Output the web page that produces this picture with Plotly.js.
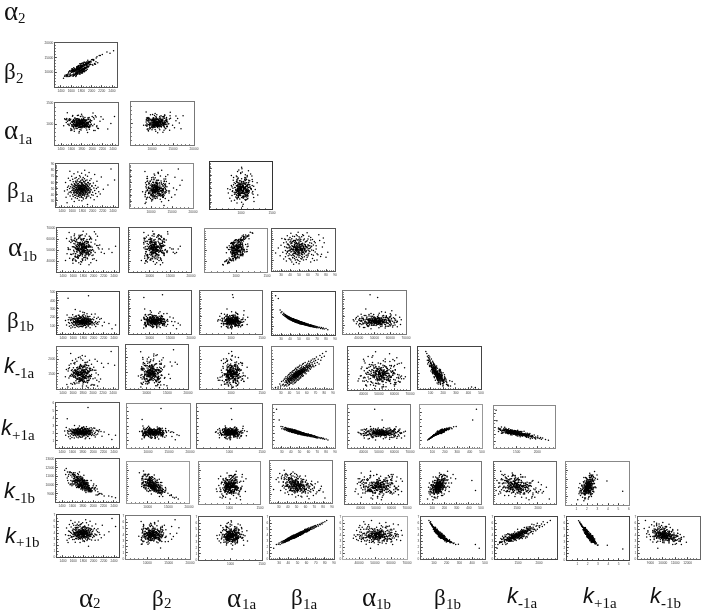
<!DOCTYPE html>
<html><head><meta charset="utf-8">
<script src="https://cdn.plot.ly/plotly-3.0.1.min.js"></script>
<style>html,body{margin:0;padding:0;background:#fff}#plot{width:702px;height:613px;filter:blur(0.35px)}</style>
</head><body><div id="plot"></div>
<script>
// Estimated posterior samples, read by eye from the cloud shapes of the reference.
const alpha2=[1900,1500,1640,1790,1735,2030,1820,1590,1870,1700,1960,1660,1810,1750,1480,1880,1715,2090,1780,1620,1845,1560,1925,1690,1800,1740,2010,1650,1765,1890,1610,1830,1725,1980,1520,1785,1860,1680,2150,1755,1905,1710,1635,1820,2060,1770,1580,1855,1695,1945,1745,1875,1540,1800,1665,2000,1730,1910,1625,1790,2120,1685,1835,1570,1775,1950,1720,1860,1450,1805,1640,1895,1760,2040,1700,1815,1595,1925,1780,1670,1840,1505,1750,1970,1690,1870,1615,1795,2210,1735,1920,1655,1825,1710,2075,1770,1550,1885,1745,1630,1805,2025,1680,1850,1600,1765,1940,1725,1880,1510,1695,1835,2105,1755,1645,1915,1785,1570,1860,1720,1990,1625,1810,1740,1895,1530,1775,2055,1670,1845,1760,1935,1600,1820,1705,2300,1650,1875,1790,1585,1865,1715,1955,1640,1800,2015,1690,1750,1470,1905,1780,1620,1850,1735,2085,1665,1825,1945,1560,1770,1700,1890,2430,1610,1795,1970,1730,1840,1655,1525,1815,1680,2170,1760,1900,1590,1745,1860,2040,1635,1785,1930,1710,1555,1845,2360,
1785,1890,1725,1830,1660,1800,1905,1755,1845,1700,1815,1740,1930,1680,1795,1870,1640,1760,1825,1715,1860,1770,1690,1810,1945,1735,1805,1650,1880,1780,1750,1835,1910,1705,1790,1620,1855,1775,1965,1725,1820,1670,1895,1760,1800,1745,1840,1690,1875,1785,1710,1925,1780,1635,1850,1770,1815,1730,1905,1795,1865,1685,1755,1830,1800,1950,1720,1610,1845,1775,1740,1885,1810,1665,1790,1920,1765,1825,1700,1855,1795,1645,1870,1750,1980,1810,1725,1900,1680,1835,1770,1860,1695,1815,1745,1890,1655,1800,1780,1930,1720,1840,1785,1675,1915,1755,1825,1695,1865,1805];
const beta2=[13100,8600,8800,12500,10150,14200,10400,10200,12200,8900,13400,11100,9900,10900,9000,11500,9650,14900,12800,9200,10750,10300,12950,8600,12300,10900,12700,11600,10650,13100,10000,10300,12050,12700,8600,12250,10200,10600,15700,10050,12150,11700,8650,12200,13000,12900,9500,10450,10350,13350,11950,11550,9500,9800,10250,14300,9500,12600,11050,10500,13300,10650,12750,8700,9450,13600,11900,11000,8000,13050,11000,10750,11000,14400,9700,12450,8850,14150,10000,10300,10300,9150,12300,12800,9200,12600,11250,10750,16100,10750,13500,9150,11850,11800,12750,10900,10000,10550,11350,10500,12050,12450,9700,13400,10500,9450,12900,11450,11300,8900,9350,12050,15350,12150,9450,11050,11850,10500,11700,9400,13500,11150,10200,11200,11550,8800,12150,12850,11300,10250,10400,13450,10700,9800,10450,16900,8900,13250,11500,8950,13450,9450,12550,10100,13000,14350,9600,9500,8700,12450,11300,10600,10400,11450,13650,9050,13150,13150,9200,9800,11300,11600,17400,10700,10150,13500,10700,13100,9050,9150,10150,11000,15700,10500,13500,9100,12250,10900,14000,10750,11750,11700,11700,8550,12550,16500,
10500,12900,11300,11100,10700,11900,12600,10100,12700,10000,12300,11200,12000,9400,11900,11600,10400,11600,10800,11100,12700,10400,10900,10800,13500,11300,11900,10500,11400,11700,10300,12200,11800,11100,11500,10300,12500,10500,13700,10000,11000,10700,12900,11500,10700,11400,11100,10900,12700,11600,11000,12000,11800,10300,11300,11600,10900,10100,13000,11400,12600,9700,11500,11000,12000,12200,11100,10000,11300,10600,11300,11600,12000,10500,10700,13200,11500,11000,10900,12400,10800,10300,11500,11300,13800,11900,10100,12900,10700,11200,11500,11400,10800,11000,11200,12700,10400,10800,11600,12100,11000,11300,11600,10600,12000,11300,11100,9800,12400,11800];
const alpha1a=[1025,1035,935,1010,1210,845,1075,895,1085,1065,1105,980,940,820,1110,935,1205,960,1010,1035,1025,1085,915,955,1040,1110,960,1075,1050,985,855,1110,1085,995,1270,930,960,970,1065,1100,975,895,1080,920,1195,985,1015,1040,950,1060,1120,955,1095,905,975,1180,995,795,1050,1105,890,1050,1130,1090,915,925,1125,955,960,1190,1105,860,1025,1120,1005,1070,865,1105,935,1135,935,1100,1100,950,975,1080,945,1230,1115,915,1040,825,1165,970,1165,985,995,1035,785,1075,1050,1155,965,980,1045,870,1155,950,905,1130,1120,1040,900,990,985,1145,855,1100,1075,950,1075,1205,965,1020,1030,995,1180,845,1095,950,925,1140,985,1030,1125,880,965,1075,1000,1115,1050,970,1065,910,1120,1260,890,1065,1125,1035,935,1185,925,1010,935,1140,975,875,1125,1075,935,1090,1180,950,1010,1080,955,1065,880,1065,1100,935,1175,925,1100,845,1070,1155,995,995,1020,945,1120,965,1015,1010,
1035,935,1050,1030,1035,935,965,1075,965,1065,965,1105,995,985,1035,960,1020,955,1010,1025,970,1005,1085,1075,935,1025,955,1085,985,1040,1020,1035,940,985,1090,975,1100,915,1035,1075,1010,1015,1040,1005,955,965,1090,1005,995,1005,1005,940,1055,1060,940,1050,985,1070,1005,995,1005,1100,950,950,1050,970,1045,1060,970,1070,1005,1005,1020,1045,1000,1015,970,1045,1035,995,1015,935,1095,975,990,1035,1030,1030,945,1100,1025,995,975,995,1105,950,1065,995,1015,1035,985,965,1090,940,1005,1040,1010,985,1065,1060];
const beta1a=[24,27,29,30,31,32,33,33,34,34,35,35,35,36,36,36,37,37,37,37,38,38,38,38,39,39,39,39,39,40,40,40,40,40,41,41,41,41,41,41,42,42,42,42,42,42,43,43,43,43,43,43,44,44,44,44,44,44,44,45,45,45,45,45,45,45,46,46,46,46,46,46,46,47,47,47,47,47,47,47,48,48,48,48,48,48,48,49,49,49,49,49,49,49,50,50,50,50,50,50,50,51,51,51,51,51,51,51,52,52,52,52,52,52,53,53,53,53,53,53,54,54,54,54,54,54,55,55,55,55,55,56,56,56,56,56,57,57,57,57,58,58,58,58,59,59,59,60,60,60,60,61,61,61,62,62,62,63,63,63,64,64,64,65,65,66,66,66,67,67,68,68,69,69,70,70,71,72,73,74,75,76,77,78,80,82,
36,37,38,39,39,40,40,41,41,42,42,42,43,43,43,44,44,44,44,45,45,45,45,45,46,46,46,46,46,46,47,47,47,47,47,47,47,48,48,48,48,48,48,48,48,49,49,49,49,49,49,49,50,50,50,50,50,50,50,50,51,51,51,51,51,51,51,52,52,52,52,52,52,52,53,53,53,53,53,53,54,54,54,54,54,55,55,55,55,55,55,56,56,56,56,57,57,57,58,58,58,59,59,60,60,61,61,62,63,64];
const alpha1b=[47200,52000,44500,54500,61000,47800,56900,41500,53000,60500,60000,43500,49500,39500,46500,57500,63500,52000,55800,48500,44500,59800,49000,55500,60200,54500,42000,46500,52500,57500,53000,45200,62000,41500,66000,40500,57800,50500,48000,59500,44800,38500,60800,56500,54000,51500,58000,46000,42500,53500,63000,42800,50500,52800,59000,49000,45000,36500,58500,47000,54500,44000,62800,59000,41800,57000,49500,47500,40500,56000,46500,52500,59000,64500,43000,60500,38000,48800,57200,50500,41000,50500,63500,52500,45500,59500,56000,67000,46800,56500,59500,40000,48800,44500,62500,54500,46200,57500,37000,60200,43000,55500,55000,46500,58800,39000,61500,44800,42000,50800,51000,58000,51000,60000,43800,62500,41500,46000,49000,56000,45500,64500,54000,48000,56500,42500,63800,40500,59500,47500,52800,60500,46500,43500,51500,51000,57500,48000,55000,53000,58000,45000,49500,41000,58800,66500,43000,46000,60500,55000,44500,63000,51500,46800,54000,48500,57000,38500,61800,59500,56500,45800,53500,42000,60000,45000,54800,49500,40000,58000,48000,57000,51000,54000,46500,40500,45500,64500,59000,43800,46000,52800,61500,56800,43000,47800,
52500,47800,55100,49500,51900,50000,49200,56000,51800,50800,48600,57000,50200,53400,50300,46900,52000,50500,53000,54800,53200,48300,52700,55000,47200,50400,52900,57800,50000,51600,51400,49300,46200,54000,51000,52600,56100,47900,49700,53400,51500,50900,53700,54900,49900,47600,52400,50800,50200,48700,50600,46000,49600,55500,52300,53700,47400,56700,53000,48400,54100,51700,50300,52200,50000,47800,52900,49700,51900,55200,51000,50200,52800,53100,48200,53700,46900,55100,49800,51200,49500,51200,55600,47600,50400,52300,51800,53300,48100,53500,52600,51100,49700,50300,55400,48700,54200,50900,53400,52800,48300,52700,51900,50100,53900,49200,54400,51500,52600,50000];
const beta1b=[455,425,292,258,271,238,252,229,241,222,236,214,228,205,226,211,222,198,214,203,214,196,207,190,205,187,199,210,192,203,184,197,188,178,196,181,191,175,186,199,172,191,180,168,186,177,188,165,181,173,162,184,176,160,182,169,187,165,178,158,176,163,181,170,155,172,152,174,160,168,178,157,171,149,168,163,175,155,166,146,152,169,161,143,172,156,147,165,141,158,149,162,167,145,138,155,160,143,152,147,164,135,152,146,158,141,149,131,150,138,155,129,146,134,143,127,151,137,146,131,124,142,133,148,138,128,136,121,143,129,139,118,134,127,141,124,130,116,136,122,128,113,133,120,126,111,118,124,108,115,127,105,119,112,116,102,109,118,100,107,114,99,106,110,96,108,92,101,106,91,103,90,98,88,96,84,93,83,89,77,86,74,82,70,75,62,
222,205,208,190,203,198,185,194,180,187,176,192,183,170,188,174,180,165,185,166,175,160,178,169,165,158,172,161,170,155,162,152,170,156,165,150,160,163,148,155,166,151,160,146,157,153,145,162,149,158,141,155,150,143,158,146,153,138,152,147,146,139,153,143,150,135,148,145,136,150,140,148,133,143,137,146,131,142,140,134,136,128,141,132,138,125,137,131,140,128,134,126,135,122,131,129,120,132,118,128,123,125,114,122,112,116,110,108,112,104];
const km1a=[1000,1020,1130,1060,1210,1090,1240,1120,1060,1290,1085,1330,1190,1260,1110,1380,1220,1060,1310,1175,1350,1140,1270,1410,1205,1320,1090,1455,1260,1170,1380,1215,1480,1110,1335,1250,1420,1160,1300,1525,1240,1440,1150,1370,1510,1290,1395,1190,1560,1320,1465,1235,1400,1130,1530,1310,1445,1260,1590,1370,1205,1490,1345,1600,1275,1420,1160,1510,1385,1300,1625,1250,1470,1340,1555,1190,1435,1680,1300,1500,1375,1585,1230,1465,1650,1310,1530,1405,1720,1280,1545,1360,1620,1470,1255,1580,1425,1695,1340,1510,1395,1610,1290,1540,1455,1740,1370,1585,1490,1660,1330,1560,1450,1790,1620,1385,1530,1470,1690,1350,1640,1430,1580,1760,1500,1695,1395,1610,1540,1820,1470,1650,1560,1735,1420,1850,1600,1510,1700,1630,1780,1530,1665,1880,1600,1720,1490,1810,1640,1575,1760,1860,1620,1700,1925,1585,1790,1680,1840,1750,1650,1900,1785,1700,1960,1820,1740,1880,2010,1790,1730,1930,1860,2020,1780,1950,2080,1880,2000,1830,2130,1960,2060,2200,2100,2270,
1230,1180,1290,1310,1240,1280,1340,1270,1330,1300,1350,1260,1400,1310,1345,1420,1370,1305,1385,1440,1345,1395,1460,1370,1415,1350,1440,1390,1500,1375,1420,1475,1390,1445,1510,1360,1430,1470,1400,1535,1445,1490,1380,1515,1430,1460,1555,1420,1480,1395,1500,1440,1465,1530,1410,1490,1570,1450,1520,1475,1505,1440,1555,1480,1530,1600,1460,1490,1565,1515,1440,1540,1600,1480,1525,1570,1470,1620,1505,1545,1585,1500,1640,1550,1600,1520,1660,1570,1610,1540,1590,1650,1550,1620,1690,1600,1570,1700,1640,1580,1680,1730,1620,1700,1770,1660,1740,1720,1800,1750];
const kp1a=[5.4,3.9,3.0,2.7,2.95,2.65,2.8,2.55,2.85,2.6,2.7,2.45,2.8,2.5,2.72,2.58,2.66,2.35,2.74,2.48,2.6,2.4,2.62,2.32,2.55,2.38,2.68,2.46,2.28,2.58,2.42,2.65,2.3,2.52,2.25,2.6,2.4,2.5,2.2,2.55,2.32,2.5,2.18,2.46,2.38,2.6,2.24,2.52,2.34,2.15,2.45,2.3,2.55,2.12,2.4,2.28,2.48,2.2,2.36,2.1,2.42,2.24,2.5,2.32,2.08,2.38,2.15,2.46,2.26,2.05,2.36,2.18,2.42,2.1,2.3,2.22,2.02,2.38,2.14,2.26,2.0,2.3,2.16,2.38,2.08,2.24,1.96,2.34,2.12,2.2,2.28,2.02,2.18,1.94,2.3,2.1,2.22,1.98,2.14,2.04,2.26,1.92,2.16,2.06,2.24,1.98,2.12,1.88,2.2,2.0,2.1,1.86,2.16,1.96,2.04,1.84,2.14,1.94,2.02,1.88,1.82,2.08,1.92,2.12,1.98,1.86,2.04,1.78,1.96,2.08,1.9,1.76,2.02,1.86,1.96,1.8,2.0,1.74,1.92,1.84,1.96,1.72,1.88,1.78,1.92,1.68,1.84,1.94,1.7,1.8,1.9,1.66,1.82,1.74,1.86,1.62,1.76,1.84,1.6,1.72,1.78,1.58,1.7,1.74,1.56,1.68,1.52,1.64,1.7,1.5,1.62,1.46,1.58,1.44,1.54,1.4,1.5,1.38,1.46,1.32,1.42,1.28,1.36,1.22,1.24,1.12,
2.62,2.58,2.55,2.46,2.52,2.42,2.5,2.38,2.47,2.4,2.33,2.45,2.36,2.3,2.4,2.28,2.36,2.25,2.38,2.22,2.34,2.24,2.35,2.28,2.27,2.2,2.32,2.24,2.3,2.18,2.25,2.15,2.3,2.2,2.26,2.14,2.22,2.23,2.12,2.18,2.26,2.14,2.2,2.1,2.18,2.16,2.08,2.23,2.12,2.2,2.06,2.17,2.14,2.08,2.2,2.1,2.16,2.02,2.13,2.09,2.12,2.04,2.16,2.08,2.13,2.0,2.1,2.09,2.02,2.13,2.05,2.11,1.98,2.07,2.01,2.09,1.96,2.06,2.04,1.99,2.0,1.93,2.04,1.97,2.02,1.92,2.0,1.95,2.03,1.93,1.98,1.91,1.99,1.88,1.95,1.93,1.86,1.96,1.85,1.92,1.88,1.9,1.8,1.86,1.78,1.82,1.76,1.74,1.77,1.7];
const km1b=[9600,10800,11000,10500,11500,9500,11100,10900,10000,11300,10500,10500,10100,11000,11900,9800,11200,9200,10900,11400,10000,11500,9600,10300,10800,10100,10100,11400,10000,10500,11300,10000,10100,9300,11000,10700,9800,10900,9000,10900,9500,11000,10400,10500,9900,10000,11400,9600,10900,9500,9900,10500,11500,9700,10300,9900,10900,9500,11200,10600,9000,10900,9800,10500,10600,9400,9900,10500,11700,9800,11200,9500,10000,9700,10100,10500,10400,9300,10700,10000,10400,11500,9900,9200,10100,9500,11100,10700,8700,9900,9300,10200,10600,10800,9500,9800,11400,10200,9800,11000,9700,9600,10900,9500,11200,10600,9300,9800,10300,10500,10900,9500,8900,10500,10100,9900,9700,11100,10200,9800,9700,10100,10300,9900,9400,11200,9700,8800,10900,10200,10500,9200,10200,9500,10700,8700,10800,9300,10400,10100,10100,9700,9300,10800,9600,9500,9900,10500,11200,9200,9600,10700,10100,9700,8800,9900,10200,9200,10100,10300,9800,9800,8500,10000,9400,9600,10300,9300,10600,10200,10100,9700,8900,9500,9800,9900,10300,9100,9300,10500,9500,9500,9700,10000,9300,8600,
10800,10000,10400,10500,11100,10200,10200,10700,9900,10500,10000,10800,9700,10300,10600,10200,11000,10100,10400,10700,10300,10000,10800,10000,9500,10600,10400,10400,10200,9950,10100,10200,9700,10650,10400,10400,10150,10000,9400,10550,10300,10300,10050,10000,9950,10450,9800,10700,9700,10350,10500,9600,10000,10750,10150,9950,10250,10050,9950,9900,9700,10550,10100,10150,10300,9400,10500,10450,10050,10000,10400,9650,10150,10300,9850,9900,9950,10150,10150,10000,9850,10250,10000,9950,9650,10100,10400,9500,10600,9700,10250,9600,10150,10050,9950,9850,10550,9800,10150,9400,10000,10000,9750,10500,9350,10200,9600,10350,9500,9950];
const kp1b=[1.8,2.4,2.45,2.65,2.4,2.8,2.6,2.9,2.75,2.95,2.85,3.05,2.7,3.1,2.8,2.95,3.2,2.85,3.0,2.9,3.0,3.3,2.95,3.15,3.25,3.0,3.4,3.1,3.3,3.05,3.4,3.15,3.5,3.25,3.1,3.45,3.3,3.55,3.2,3.35,3.6,3.25,3.5,3.4,3.65,3.3,3.35,3.7,3.5,3.45,3.75,3.35,3.6,3.8,3.4,3.55,3.7,3.45,3.85,3.5,3.75,3.55,3.9,3.4,3.65,3.8,3.5,3.95,3.7,3.6,3.8,3.55,3.95,3.7,3.6,4.0,3.75,3.5,3.85,3.65,3.9,3.6,4.05,3.75,3.85,4.1,3.7,3.95,3.65,4.15,3.8,4.05,3.7,3.95,4.2,3.85,4.1,3.75,4.0,3.9,4.25,3.85,4.1,3.95,4.3,4.05,3.8,4.2,4.0,4.35,3.95,4.25,4.1,4.4,4.0,4.2,4.45,3.95,4.3,4.15,4.5,4.05,4.35,4.2,4.55,4.25,4.15,4.5,4.35,4.6,4.25,4.4,4.65,4.3,4.5,4.2,4.7,4.35,4.55,4.45,4.8,4.45,4.6,4.9,4.55,4.75,4.95,4.5,4.85,4.65,4.95,4.6,4.85,5.05,4.7,4.9,5.15,4.75,5.0,4.85,5.25,4.9,5.1,5.3,4.95,5.15,5.35,5.0,5.25,5.4,5.1,5.45,5.3,5.55,5.35,5.6,5.4,5.7,5.5,5.8,5.7,5.95,5.85,6.1,6.2,6.4,
3.05,3.2,3.08,3.25,3.12,3.35,3.18,3.3,3.42,3.28,3.5,3.35,3.42,3.6,3.38,3.45,3.62,3.5,3.38,3.66,3.55,3.7,3.48,3.6,3.65,3.78,3.52,3.68,3.58,3.74,3.72,3.85,3.6,3.78,3.68,3.9,3.74,3.72,3.95,3.8,3.7,3.88,3.78,3.96,3.84,3.86,4.0,3.76,3.92,3.82,4.05,3.85,3.95,4.08,3.88,4.0,3.92,4.12,3.98,4.03,4.0,4.14,3.96,4.08,4.02,4.18,4.06,4.04,4.2,4.1,4.16,4.02,4.24,4.12,4.18,4.08,4.28,4.14,4.2,4.26,4.22,4.36,4.16,4.3,4.24,4.4,4.26,4.34,4.2,4.44,4.3,4.42,4.32,4.52,4.38,4.46,4.58,4.4,4.6,4.48,4.55,4.58,4.72,4.65,4.8,4.7,4.85,4.88,4.85,5.0];

const series=[alpha2,beta2,alpha1a,beta1a,alpha1b,beta1b,km1a,kp1a,km1b,kp1b];
const ranges=[[1283,2497],[5000,20000],[500,1500],[20,90],[30000,70000],[0,500],[950,2430],[0,6],[8000,13000],[0,7]];
const ticks=[[1400,1600,1800,2000,2200,2400],[10000,15000,20000],[1000,1500],[30,40,50,60,70,80,90],[40000,50000,60000,70000],[100,200,300,400,500],[1500,2000],[1,2,3,4,5,6],[9000,10000,11000,12000,13000],[0,1,2,3,4,5,6,7]];
const minors=[50,1000,100,2,2000,20,100,0.5,250,0.5];

// Pixel frames [left,right,top,bottom, frame grey], one list per row of the triangle.
const frames=[
[[55,117,43,87,'#555']],
[[55,118,103,145,'#666'],[131,194,102,145,'#777']],
[[56,118,164,207,'#555'],[130,193,164,208,'#888'],[210,272,162,209,'#333']],
[[57,119,228,272,'#555'],[129,191,228,272,'#555'],[205,267,229,272,'#888'],[272,335,229,271,'#555']],
[[57,119,292,334,'#444'],[129,191,291,334,'#555'],[200,262,291,334,'#666'],[272,335,292,335,'#444'],[343,406,291,334,'#777']],
[[57,118,347,389,'#666'],[126,188,345,389,'#555'],[200,262,347,389,'#666'],[272,333,347,389,'#777'],[348,410,347,390,'#555'],[418,481,347,389,'#444']],
[[56,119,403,448,'#555'],[127,190,404,448,'#888'],[197,262,404,448,'#666'],[273,335,405,448,'#777'],[348,410,405,448,'#777'],[420,482,405,448,'#999'],[494,555,406,448,'#888']],
[[56,119,459,502,'#555'],[127,189,462,503,'#999'],[199,260,462,504,'#888'],[270,332,461,503,'#777'],[345,407,462,504,'#666'],[420,481,462,504,'#777'],[494,556,462,504,'#666'],[566,629,462,505,'#888']],
[[57,119,515,557,'#444'],[126,190,516,559,'#777'],[199,262,517,560,'#555'],[270,334,517,559,'#555'],[343,407,517,559,'#aaa'],[421,485,517,559,'#555'],[495,557,517,559,'#444'],[567,629,517,560,'#444'],[638,700,517,559,'#666']]
];

const W=702,H=613;
const data=[];
const layout={width:W,height:H,margin:{l:0,r:0,t:0,b:0},paper_bgcolor:'#fff',plot_bgcolor:'#fff',showlegend:false,annotations:[]};
let n=0;
frames.forEach((row,r)=>{
  row.forEach((f,c)=>{
    n++;
    const yi=r+1,xi=c;
    data.push({type:'scatter',mode:'markers',x:series[xi],y:series[yi],xaxis:'x'+n,yaxis:'y'+n,
      marker:{size:1.5,color:'#000',line:{width:0}},cliponaxis:true,hoverinfo:'skip'});
    const base={showgrid:false,zeroline:false,showline:true,mirror:true,linecolor:f[4],linewidth:1,
      ticks:'inside',ticklen:2,tickwidth:0.7,tickcolor:'#222',tickangle:0,automargin:false,
      tickfont:{family:'Liberation Sans',size:3.2,color:'#444'},tickmode:'array'};
    layout['xaxis'+n]=Object.assign({},base,{anchor:'y'+n,domain:[f[0]/W,f[1]/W],range:ranges[xi],tickvals:ticks[xi],ticktext:ticks[xi].map(String),
      minor:{ticks:'inside',ticklen:1,tickwidth:0.6,tickcolor:'#333',dtick:minors[xi]}});
    layout['yaxis'+n]=Object.assign({},base,{anchor:'x'+n,domain:[1-f[3]/H,1-f[2]/H],range:ranges[yi],tickvals:ticks[yi],ticktext:ticks[yi].map(String),
      showticklabels:(c===0||r===8),
      minor:{ticks:'inside',ticklen:1,tickwidth:0.6,tickcolor:'#333',dtick:minors[yi]}});
  });
});

function label(main,sub,mx,my,sx,sy,opt){
  opt=opt||{};
  const isK=main==='<i>k</i>', isB=main==='β';
  const font=isK?{family:'Liberation Sans',size:22,color:'#111'}:{family:'Liberation Serif',size:isB?23:27,color:'#111'};
  layout.annotations.push({xref:'paper',yref:'paper',x:mx/W,y:1-my/H,xanchor:'left',yanchor:'middle',showarrow:false,borderpad:0,
    height:opt.h||24,text:main,font:font});
  layout.annotations.push({xref:'paper',yref:'paper',x:sx/W,y:1-sy/H,xanchor:'left',yanchor:'middle',showarrow:false,borderpad:0,
    text:sub,font:{family:'Liberation Serif',size:15,color:'#111'}});
}
const K='<i>k</i>',M='<b>-</b>';
label('α','2',3,11,17,18,{h:18});
label('β','2',3,71,15,78);
label('α','1a',3,130,17,139);
label('β','1a',6,190,18,197);
label('α','1b',7,247,21,256);
label('β','1b',6,320,18,326);
label(K,M+'1a',3,365,14,373);
label(K,'+1a',0,427,11,435);
label(K,M+'1b',3,490,14,498);
label(K,'+1b',4,535,15,542);
label('α','2',78,598,92,603);
label('β','2',151,598,163,603);
label('α','1a',226,598,241,604);
label('β','1a',290,597,302,604);
label('α','1b',361,597,375,604);
label('β','1b',433,597,445,604);
label(K,M+'1a',506,595,517,603);
label(K,'+1a',582,595,593,603);
label(K,M+'1b',649,595,660,603);

Plotly.newPlot('plot',data,layout,{displayModeBar:false,staticPlot:true});
</script></body></html>
